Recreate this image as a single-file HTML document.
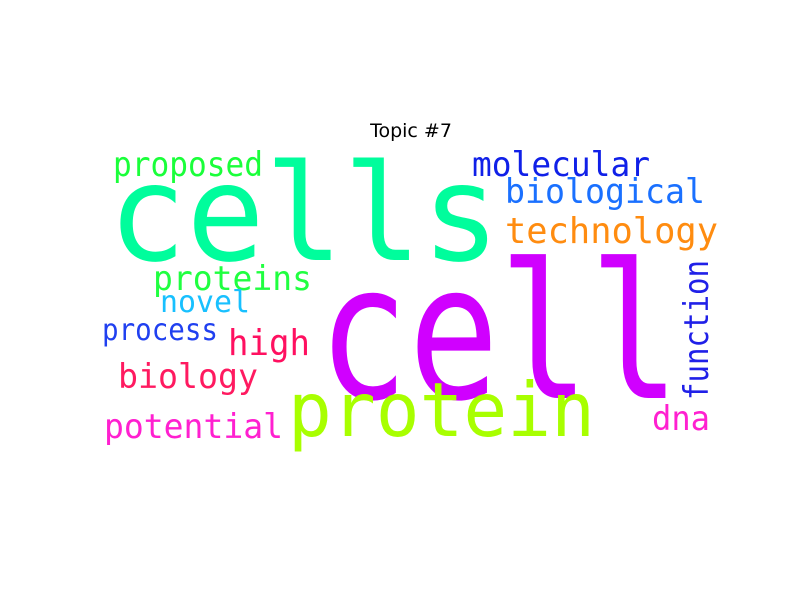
<!DOCTYPE html>
<html><head><meta charset="utf-8"><style>
html,body{margin:0;padding:0;background:#fff;width:800px;height:600px;overflow:hidden}
svg text{font-family:"DejaVu Sans Mono","Liberation Mono",monospace}
</style></head><body>
<svg id="wc" width="800" height="600" viewBox="0 0 800 600">
<text x="411" y="137" text-anchor="middle" style="font-family:'DejaVu Sans','Liberation Sans',sans-serif" font-size="19" fill="#000">Topic #7</text>
</svg>
<script>
const words=["cells","cell","protein","proposed","molecular","biological","technology","proteins","novel","process","high","biology","potential","dna","function"];
const colors=["#00fd9c","#d000ff","#a8ff00","#1aff3a","#1020e8","#1a70ff","#ff8c10","#20ff40","#18c0ff","#2040f0","#ff1060","#ff1a60","#ff20d0","#ff20d0","#2020e8"];
const xs=[108,318,288,113,472,505,505,153,160,102,228,118,104,652,708];
const ys=[260,398,436,176,176,203,243,290,312,340,355,388,438,430,400];
const lens=[392,362,307,150,178,200,213,159,90,116,82,140,179,58,140];
const sizes=[134,188,75,34,34,34,36,34,30,30,36,34,34,34,34];
const rot=[0,0,0,0,0,0,0,0,0,0,0,0,0,0,-90];
const svg=document.getElementById('wc');
words.forEach((w,i)=>{
 const t=document.createElementNS('http://www.w3.org/2000/svg','text');
 
 
 t.setAttribute('x',xs[i]);t.setAttribute('y',ys[i]);
 t.setAttribute('font-size',sizes[i]);t.setAttribute('fill',colors[i]);
 t.setAttribute('textLength',lens[i]);t.setAttribute('lengthAdjust','spacingAndGlyphs');
 if(rot[i])t.setAttribute('transform','rotate('+rot[i]+' '+xs[i]+' '+ys[i]+')');
 t.textContent=w;svg.appendChild(t);
});
</script>
</body></html>
